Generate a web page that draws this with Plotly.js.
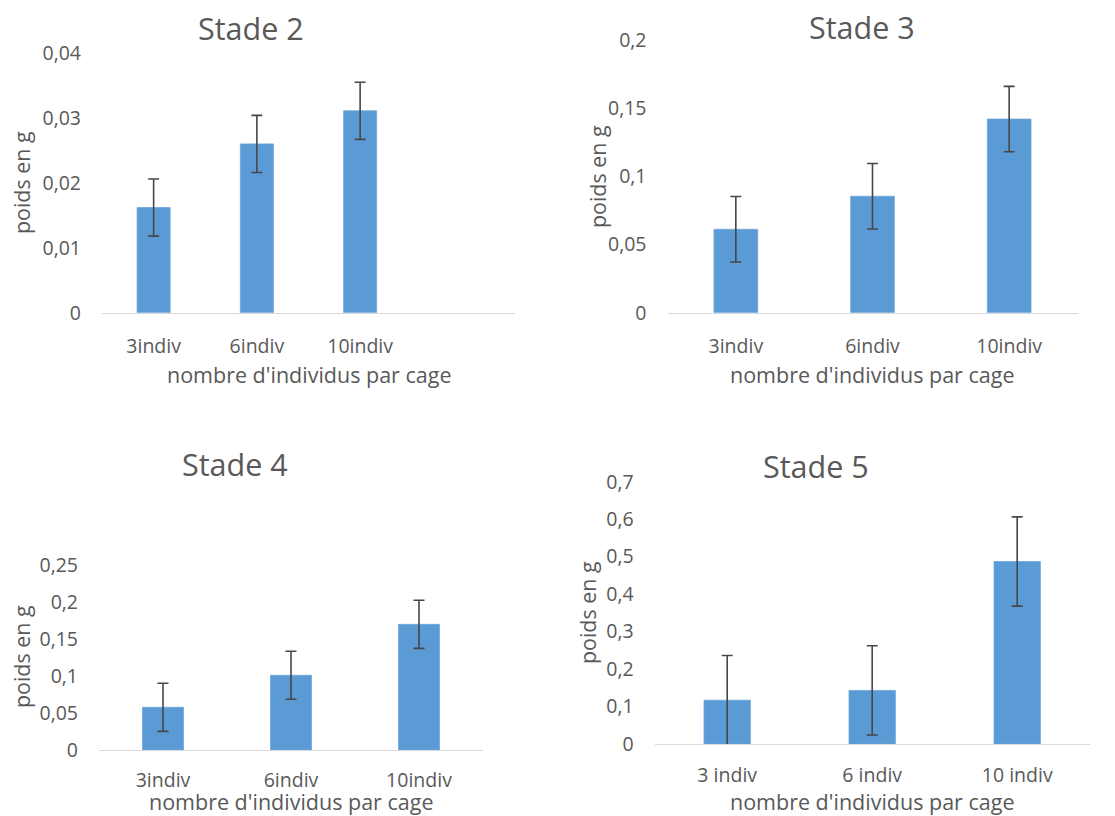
<!DOCTYPE html>
<html>
<head>
<meta charset="utf-8">
<script src="https://cdn.plot.ly/plotly-3.0.1.min.js"></script>
<style>html,body{margin:0;padding:0;background:#fff;}#chart{width:1115px;height:816px;}</style>
</head>
<body>
<div id="chart"></div>
<script>
var categoriesA = ['3indiv', '6indiv', '10indiv'];
var categoriesB = ['3 indiv', '6 indiv', '10 indiv'];

var stade2Values = [0.0162, 0.0260, 0.0311];
var stade2Errors = [0.0044, 0.0044, 0.0044];
var stade3Values = [0.0612, 0.0854, 0.1420];
var stade3Errors = [0.0240, 0.0240, 0.0240];
var stade4Values = [0.0577, 0.1010, 0.1698];
var stade4Errors = [0.0325, 0.0325, 0.0325];
var stade5Values = [0.1170, 0.1430, 0.4870];
var stade5Errors = [0.1190, 0.1190, 0.1190];

var panelTitles = ['Stade 2', 'Stade 3', 'Stade 4', 'Stade 5'];
var xTitle = "nombre d'individus par cage";
var yTitle = 'poids en g';

var W = 1115, H = 816;
var BAR = '#5B9BD5', TXT = '#595959', ERR = '#474747', LINE = '#D9D9D9';
var FONT = 'Open Sans, Liberation Sans, sans-serif';

function px(x) { return x / W; }
function py(y) { return 1 - y / H; }

function barTrace(cats, vals, errs, xa, ya) {
  return {
    type: 'bar', x: cats, y: vals, xaxis: xa, yaxis: ya, width: 0.32,
    marker: {color: BAR, line: {color: '#6DA6DA', width: 0.8}},
    error_y: {type: 'data', array: errs, visible: true, color: ERR, thickness: 1.6, width: 5.5},
    hoverinfo: 'x+y', showlegend: false
  };
}

var data = [
  barTrace(categoriesA, stade2Values, stade2Errors, 'x', 'y'),
  barTrace(categoriesA, stade3Values, stade3Errors, 'x2', 'y2'),
  barTrace(categoriesA, stade4Values, stade4Errors, 'x3', 'y3'),
  barTrace(categoriesB, stade5Values, stade5Errors, 'x4', 'y4')
];

function xAxis(l, r, anchor, range, standoff) {
  return {
    domain: [px(l), px(r)], anchor: anchor, type: 'category', range: range,
    showline: true, linecolor: LINE, linewidth: 1.4, ticks: '', showgrid: false, zeroline: false,
    tickfont: {size: 19.5, color: TXT, family: FONT}, ticklabelstandoff: standoff, fixedrange: true
  };
}
function yAxis(b, t, anchor, range, dtick) {
  return {
    domain: [py(b), py(t)], anchor: anchor, range: range, dtick: dtick,
    showline: false, ticks: '', showgrid: false, zeroline: false,
    tickfont: {size: 19.5, color: TXT, family: FONT}, ticklabelstandoff: 20, fixedrange: true
  };
}

function ann(text, x, y, size, angle) {
  return {
    text: text, x: px(x), y: py(y), xref: 'paper', yref: 'paper',
    xanchor: 'center', yanchor: 'middle', showarrow: false, textangle: angle || 0,
    font: {size: size, color: TXT, family: FONT}
  };
}

var layout = {
  width: W, height: H,
  margin: {l: 0, r: 0, t: 0, b: 0},
  paper_bgcolor: '#fff', plot_bgcolor: 'rgba(0,0,0,0)',
  separators: ', ',
  font: {family: FONT, color: TXT},
  showlegend: false,
  xaxis: xAxis(102, 515, 'y', [-0.5, 3.5], 15),
  yaxis: yAxis(312.7, 53, 'x', [0, 0.04], 0.01),
  xaxis2: xAxis(667.5, 1077.5, 'y2', [-0.5, 2.5], 15),
  yaxis2: yAxis(312.7, 40, 'x2', [0, 0.2], 0.05),
  xaxis3: xAxis(99, 483, 'y3', [-0.5, 2.5], 12),
  yaxis3: yAxis(750, 565, 'x3', [0, 0.25], 0.05),
  xaxis4: xAxis(654.7, 1089.7, 'y4', [-0.5, 2.5], 13),
  yaxis4: yAxis(744, 481.7, 'x4', [0, 0.7], 0.1),
  annotations: [
    ann(panelTitles[0], 251, 28, 30.5),
    ann(panelTitles[1], 862, 27, 30.5),
    ann(panelTitles[2], 235, 464, 30.5),
    ann(panelTitles[3], 816, 466, 30.5),
    ann(xTitle, 309, 375, 21.5),
    ann(xTitle, 872.5, 375, 21.5),
    ann(xTitle, 291, 801.5, 21.5),
    ann(xTitle, 872.5, 801.5, 21.5),
    ann(yTitle, 22, 183, 21.4, -90),
    ann(yTitle, 597, 176, 21.4, -90),
    ann(yTitle, 21, 657, 21.4, -90),
    ann(yTitle, 587, 613, 21.4, -90)
  ]
};

Plotly.newPlot('chart', data, layout, {displayModeBar: false, staticPlot: true});
</script>
</body>
</html>
